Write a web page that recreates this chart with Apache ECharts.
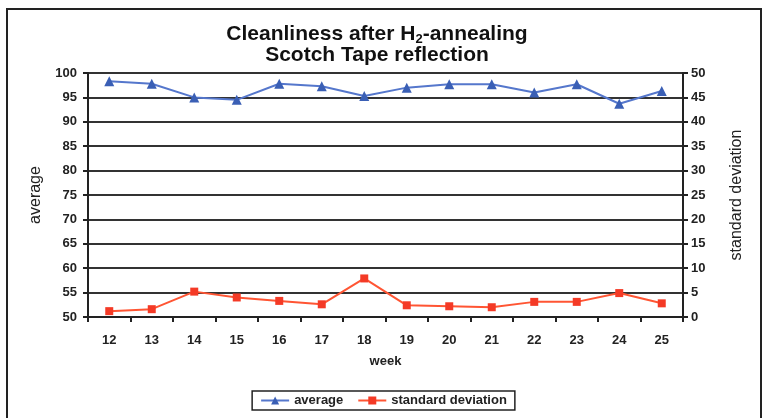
<!DOCTYPE html>
<html><head><meta charset="utf-8">
<script src="https://cdn.jsdelivr.net/npm/echarts@6/dist/echarts.min.js"></script>
<style>html,body{margin:0;padding:0;background:#fff}#c{width:767px;height:418px}</style>
</head><body><div id="c"></div>
<script>
const weeks = ['12','13','14','15','16','17','18','19','20','21','22','23','24','25'];
const averageValues = [98.3, 97.8, 95.0, 94.5, 97.8, 97.3, 95.3, 97.0, 97.7, 97.7, 96.0, 97.7, 93.7, 96.3];
const stdDevValues = [1.2, 1.6, 5.2, 4.0, 3.3, 2.6, 7.9, 2.4, 2.2, 2.0, 3.1, 3.1, 4.9, 2.8];
const leftTicks = [50, 100, 5];
const rightTicks = [0, 50, 5];

const chart = echarts.init(document.getElementById('c'));
const font = '"Liberation Sans", Arial, sans-serif';
chart.setOption({
  backgroundColor: '#fff',
  animation: false,
  graphic: [{type:'rect', shape:{x:7,y:9,width:754,height:420}, style:{fill:'none', stroke:'#222', lineWidth:2}, z:-1}],
  title: {
    text: 'Cleanliness after H{sub|2}-annealing\nScotch Tape reflection',
    left: 372, textAlign: 'center', top: 19,
    textStyle: {
      fontFamily: font, fontWeight: 'bold', fontSize: 21, color: '#111', lineHeight: 21,
      rich: { sub: { fontFamily: font, fontWeight: 'bold', fontSize: 13, color: '#111', padding: [10,0,0,0] } }
    }
  },
  grid: {left: 88, right: 84, top: 73, bottom: 101},
  legend: {
    bottom: 8, left: 'center',
    data: ['average', 'standard deviation'],
    borderColor: '#222', borderWidth: 1.5, padding: [3, 8],
    itemWidth: 28, itemHeight: 10, itemGap: 14,
    textStyle: {fontFamily: font, fontWeight: 'bold', fontSize: 13, color: '#222'}
  },
  xAxis: {
    type: 'category', data: weeks, name: 'week', nameLocation: 'middle', nameGap: 38,
    nameTextStyle: {fontFamily: font, fontWeight: 'bold', fontSize: 13, color: '#222'},
    axisLine: {lineStyle: {color: '#222', width: 2}},
    axisTick: {show: true, alignWithLabel: false, length: 5, lineStyle: {color: '#222', width: 2}},
    axisLabel: {fontFamily: font, fontWeight: 'bold', fontSize: 13, color: '#222', margin: 17}
  },
  yAxis: [{
    type: 'value', min: leftTicks[0], max: leftTicks[1], interval: leftTicks[2],
    name: 'average', nameLocation: 'middle', nameGap: 44, nameRotate: 90,
    nameTextStyle: {fontFamily: font, fontSize: 16, color: '#222'},
    axisLine: {show: true, lineStyle: {color: '#222', width: 2}},
    axisTick: {show: true, length: 5, lineStyle: {color: '#222', width: 2}},
    axisLabel: {fontFamily: font, fontWeight: 'bold', fontSize: 13, color: '#222', margin: 11}
  , splitLine: {show: true, lineStyle: {color: '#333', width: 2}}
  }, {
    type: 'value', min: rightTicks[0], max: rightTicks[1], interval: rightTicks[2],
    name: 'standard deviation', nameLocation: 'middle', nameGap: 46, nameRotate: 90,
    nameTextStyle: {fontFamily: font, fontSize: 16, color: '#222'},
    axisLine: {show: true, lineStyle: {color: '#222', width: 2}},
    axisTick: {show: true, length: 5, lineStyle: {color: '#222', width: 2}},
    axisLabel: {fontFamily: font, fontWeight: 'bold', fontSize: 13, color: '#222', margin: 8},
    splitLine: {show: false}
  }],
  series: [{
    name: 'average', type: 'line', yAxisIndex: 0, data: averageValues,
    symbol: 'triangle', symbolSize: 10,
    lineStyle: {color: '#5577cc', width: 2},
    itemStyle: {color: '#3a5fb5'}
  }, {
    name: 'standard deviation', type: 'line', yAxisIndex: 1, data: stdDevValues,
    symbol: 'rect', symbolSize: 8,
    lineStyle: {color: '#ff5533', width: 2},
    itemStyle: {color: '#f43a26'}
  }]
});
</script></body></html>
